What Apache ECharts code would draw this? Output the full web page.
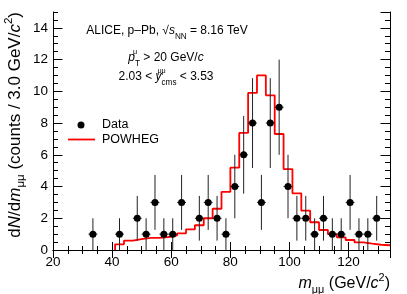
<!DOCTYPE html>
<html><head><meta charset="utf-8">
<script src="https://cdn.jsdelivr.net/npm/echarts@6/dist/echarts.min.js"></script>
<style>html,body{margin:0;padding:0;background:#fff}#c{width:407px;height:294px}</style>
</head><body><div id="c"></div>
<script>
// ---- Data ----
const binCenters = [33.5, 42.5, 48.5, 51.5, 54.5, 57.5, 60.5, 63.5, 69.5, 72.5, 75.5, 78.5, 81.5, 84.5, 87.5, 90.5, 93.5, 96.5, 99.5, 102.5, 105.5, 108.5, 111.5, 114.5, 117.5, 120.5, 123.5, 126.5, 129.5];
const counts = [1, 1, 2, 1, 3, 1, 1, 3, 2, 3, 2, 1, 4, 6, 8, 3, 8, 9, 4, 2, 2, 1, 2, 1, 1, 3, 1, 1, 2];
const countErrors = [1, 1, 1.41, 1, 1.73, 1, 1, 1.73, 1.41, 1.73, 1.41, 1, 2, 2.45, 2.83, 1.73, 2.83, 3, 2, 1.41, 1.41, 1, 1.41, 1, 1, 1.73, 1, 1, 1.41];
const binHalfWidth = 1.5;
const powhegLowEdges = [41, 44, 47, 50, 53, 56, 59, 62, 65, 68, 71, 74, 77, 80, 83, 86, 89, 92, 95, 98, 101, 104, 107, 110, 113, 116, 119, 122, 125, 128, 131];
const powhegUpperEdge = 134;
const powhegValues = [0.36, 0.59, 0.69, 0.76, 0.76, 0.82, 0.92, 1.05, 1.30, 1.56, 2.0, 2.6, 3.66, 5.19, 7.38, 9.9, 11.0, 9.75, 7.31, 5.1, 3.57, 2.48, 1.75, 1.26, 1.0, 0.80, 0.63, 0.48, 0.40, 0.33, 0.30];
const xMin = 20, xMax = 134, xMajor = 20, xMinor = 5;
const yMin = 0, yMax = 15, yMajor = 2, yMinor = 0.5;
const legendNames = ['Data', 'POWHEG'];

const FONT = 'Liberation Sans, Arial, Helvetica, sans-serif';

// build step line points from histogram bins
const stepPoints = [[powhegLowEdges[0], 0]];
powhegValues.forEach((v, i) => {
  const hi = i + 1 < powhegLowEdges.length ? powhegLowEdges[i + 1] : powhegUpperEdge;
  stepPoints.push([powhegLowEdges[i], v]);
  stepPoints.push([hi, v]);
});
const dataPoints = binCenters.map((x, i) => [x, counts[i], countErrors[i]]);

function xAx(pos, major, showLabel) {
  return {
    type: 'value', min: xMin, max: xMax, interval: major ? xMajor : xMinor, position: pos,
    axisLine: { show: major, lineStyle: { color: '#000', width: 1 } },
    axisTick: { show: true, inside: true, length: major ? 8 : 4, lineStyle: { color: '#000', width: 1 } },
    axisLabel: { show: showLabel, color: '#000', fontSize: 13.5, fontFamily: FONT, margin: 5, showMaxLabel: false },
    splitLine: { show: false }
  };
}
function yAx(pos, major, showLabel) {
  return {
    type: 'value', min: yMin, max: yMax, interval: major ? yMajor : yMinor, position: pos,
    axisLine: { show: major, lineStyle: { color: '#000', width: 1 } },
    axisTick: { show: true, inside: true, length: major ? 9.5 : 5, lineStyle: { color: '#000', width: 1 } },
    axisLabel: { show: showLabel, color: '#000', fontSize: 13.5, fontFamily: FONT, margin: 5, showMaxLabel: false },
    splitLine: { show: false }
  };
}

const chart = echarts.init(document.getElementById('c'), null, { renderer: 'canvas' });
const baseRich = (fs) => ({
  n: { fontSize: fs, fontFamily: FONT, color: '#000', lineHeight: fs + 7 },
  i: { fontSize: fs, fontFamily: FONT, fontStyle: 'italic', color: '#000', lineHeight: fs + 7 },
  sb: { fontSize: fs * 0.68, fontFamily: FONT, color: '#000', lineHeight: fs * 0.68 + 1, verticalAlign: 'bottom' },
  sp: { fontSize: fs * 0.68, fontFamily: FONT, color: '#000', lineHeight: fs * 0.68 + 1, verticalAlign: 'top' },
  spz: { fontSize: fs * 0.6, fontFamily: FONT, color: '#000', lineHeight: fs * 0.6 + 1, verticalAlign: 'top', width: 0 }
});

chart.setOption({
  animation: false,
  backgroundColor: '#fff',
  grid: { left: 53, right: 17, top: 12, bottom: 44, containLabel: false },
  xAxis: [xAx('bottom', true, true), xAx('bottom', false, false), xAx('top', true, false), xAx('top', false, false)],
  yAxis: [yAx('left', true, true), yAx('left', false, false), yAx('right', true, false), yAx('right', false, false)],
  series: [
    {
      name: 'POWHEG', type: 'line', data: stepPoints, symbol: 'none', xAxisIndex: 0, yAxisIndex: 0,
      lineStyle: { color: '#ff0000', width: 1.8 }, itemStyle: { color: '#ff0000' }, z: 2
    },
    {
      type: 'custom', xAxisIndex: 0, yAxisIndex: 0, data: dataPoints, z: 3,
      renderItem: function (params, api) {
        const x = api.value(0), y = api.value(1), e = api.value(2);
        const top = api.coord([x, y + e]), bot = api.coord([x, Math.max(y - e, 0)]);
        const l = api.coord([x - binHalfWidth, y]), r = api.coord([x + binHalfWidth, y]);
        const st = { stroke: '#222', lineWidth: 1 };
        return { type: 'group', children: [
          { type: 'line', shape: { x1: top[0], y1: top[1], x2: bot[0], y2: bot[1] }, style: st },
          { type: 'line', shape: { x1: l[0], y1: l[1], x2: r[0], y2: r[1] }, style: st }
        ] };
      }
    },
    {
      name: 'Data', type: 'scatter', data: dataPoints.map(d => [d[0], d[1]]), symbol: 'circle', symbolSize: 7,
      itemStyle: { color: '#000', opacity: 1 }, xAxisIndex: 0, yAxisIndex: 0, z: 4
    }
  ],
  graphic: [
    // legend
    { type: 'circle', shape: { cx: 81, cy: 125, r: 3.5 }, style: { fill: '#000' } },
    { type: 'text', x: 102, y: 125, style: { text: legendNames[0], fontSize: 12.5, fontFamily: FONT, fill: '#000', align: 'left', verticalAlign: 'middle' } },
    { type: 'line', shape: { x1: 68, y1: 139.5, x2: 95, y2: 139.5 }, style: { stroke: '#ff0000', lineWidth: 1.8 } },
    { type: 'text', x: 102, y: 140, style: { text: legendNames[1], fontSize: 12.5, fontFamily: FONT, fill: '#000', align: 'left', verticalAlign: 'middle' } },
    // annotations
    { type: 'text', x: 167, y: 31, style: {
      text: '{n|ALICE, p–Pb, √}{i|s}{sb|NN}{n| = 8.16 TeV}', rich: baseRich(12), align: 'center', verticalAlign: 'middle' } },
    { type: 'text', x: 166, y: 58, style: {
      text: '{i|p}{spz|μ}{sb|T}{n| > 20 GeV/}{i|c}', rich: baseRich(12), align: 'center', verticalAlign: 'middle' } },
    { type: 'text', x: 166, y: 77, style: {
      text: '{n|2.03 < }{i|y}{spz|μμ}{sb|cms}{n| < 3.53}', rich: baseRich(12), align: 'center', verticalAlign: 'middle' } },
    // axis titles
    { type: 'text', x: 390, y: 284, style: {
      text: '{i|m}{sb|μμ}{n| (GeV/}{i|c}{sp|2}{n|)}', rich: baseRich(16), align: 'right', verticalAlign: 'middle' } },
    { type: 'text', x: 15, y: 12, rotation: Math.PI / 2, style: {
      text: '{n|d}{i|N}{n|/d}{i|m}{sb|μμ}{n| (counts / 3.0 GeV/}{i|c}{sp|2}{n|)}', rich: baseRich(17), align: 'right', verticalAlign: 'middle' } }
  ]
});
</script>
</body></html>
